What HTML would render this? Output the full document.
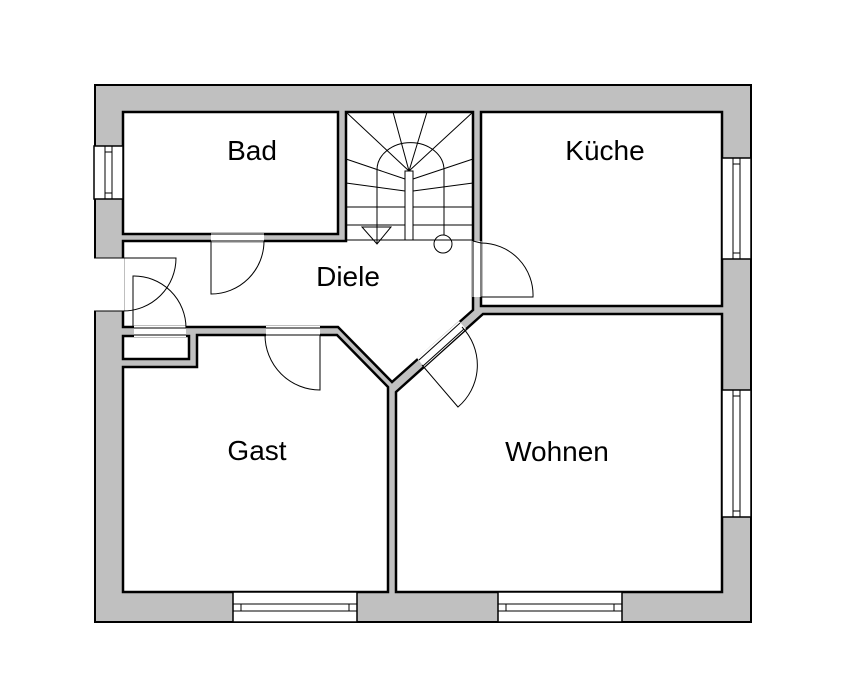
<!DOCTYPE html>
<html><head><meta charset="utf-8"><style>
html,body{margin:0;padding:0;background:#fff;}
svg{display:block;}
text{font-family:"Liberation Sans",Arial,sans-serif;font-size:28px;fill:#000;text-anchor:middle;}
</style></head><body>
<svg width="859" height="699" viewBox="0 0 859 699" xmlns="http://www.w3.org/2000/svg">
<!-- outer wall -->
<rect x="95" y="85" width="656" height="537" fill="#c0c0c0" stroke="#000" stroke-width="2"/>
<g fill="#fff" stroke="#000" stroke-width="2.5">
<!-- Bad -->
<rect x="123" y="112" width="215" height="122"/>
<!-- Kueche -->
<rect x="481" y="112" width="241" height="194"/>
<!-- Diele + stairs -->
<polygon points="123,241 346,241 346,112 473,112 473,310 392,382 338,327 123,327"/>
<!-- niche -->
<rect x="123" y="336" width="66" height="23"/>
<!-- Gast -->
<polygon points="123,367 197,367 197,335 337,335 388,387 388,592 123,592"/>
<!-- Wohnen -->
<polygon points="396,592 722,592 722,314 483,314 396,392"/>
</g>
<!-- openings (white) -->
<g fill="#fff" stroke="none">
<rect x="211" y="233" width="53" height="9"/>
<rect x="134" y="326" width="52" height="11"/>
<rect x="266" y="326" width="54" height="11"/>
<rect x="472" y="241" width="10" height="56"/>
<rect x="93" y="258" width="31" height="53"/>
<polygon points="417,358 459,321 466,329 424,367"/>
</g>
<g fill="none" stroke="#000" stroke-width="1">
<line x1="211" y1="234" x2="264" y2="234"/><line x1="211" y1="241" x2="264" y2="241"/>
<line x1="134" y1="328" x2="186" y2="328"/><line x1="134" y1="335" x2="186" y2="335"/>
<line x1="266" y1="328" x2="320" y2="328"/><line x1="266" y1="335" x2="320" y2="335"/>
<line x1="473" y1="241" x2="473" y2="297"/><line x1="481" y1="241" x2="481" y2="297"/>
<line x1="94" y1="258" x2="123" y2="258"/><line x1="94" y1="311" x2="123" y2="311"/>
<line x1="419" y1="360" x2="460" y2="323"/><line x1="423" y1="366" x2="464" y2="329"/>
<!-- door leaves -->
<path d="M211,241 L211,294 A53,53 0 0 0 264,241"/>
<path d="M123,258 L176,258 A53,53 0 0 1 123,311"/>
<path d="M133,328 L133,276 A52,52 0 0 1 186,328"/>
<path d="M320,335 L320,390 A55,55 0 0 1 265,335"/>
<path d="M481,297 L533,297 A52,52 0 0 0 481,243 L473,241"/>
<path d="M422,365 L458,407 A55,55 0 0 0 462,327"/>
</g>
<!-- windows -->
<g fill="#fff" stroke="#000" stroke-width="1.5">
<rect x="94" y="146" width="29" height="53"/>
<rect x="722" y="158" width="29" height="101"/>
<rect x="722" y="390" width="29" height="127"/>
<rect x="233" y="592" width="124" height="30"/>
<rect x="498" y="592" width="124" height="30"/>
</g>
<g fill="none" stroke="#000" stroke-width="1">
<line x1="105" y1="146" x2="105" y2="199"/><line x1="112" y1="146" x2="112" y2="199"/>
<line x1="105" y1="152" x2="112" y2="152"/><line x1="105" y1="193" x2="112" y2="193"/>
<line x1="733" y1="158" x2="733" y2="259"/><line x1="740" y1="158" x2="740" y2="259"/>
<line x1="733" y1="164" x2="740" y2="164"/><line x1="733" y1="253" x2="740" y2="253"/>
<line x1="733" y1="390" x2="733" y2="517"/><line x1="740" y1="390" x2="740" y2="517"/>
<line x1="733" y1="396" x2="740" y2="396"/><line x1="733" y1="511" x2="740" y2="511"/>
<line x1="233" y1="604" x2="357" y2="604"/><line x1="233" y1="611" x2="357" y2="611"/>
<line x1="241" y1="604" x2="241" y2="611"/><line x1="349" y1="604" x2="349" y2="611"/>
<line x1="498" y1="604" x2="622" y2="604"/><line x1="498" y1="611" x2="622" y2="611"/>
<line x1="506" y1="604" x2="506" y2="611"/><line x1="614" y1="604" x2="614" y2="611"/>
</g>
<!-- stairs -->
<g fill="none" stroke="#000" stroke-width="1">
<line x1="346" y1="240" x2="473" y2="240"/>
<line x1="346" y1="207" x2="405" y2="207"/><line x1="413" y1="207" x2="473" y2="207"/>
<line x1="346" y1="225" x2="405" y2="225"/><line x1="413" y1="225" x2="473" y2="225"/>
<line x1="409" y1="171" x2="346" y2="112"/>
<line x1="409" y1="171" x2="393" y2="112"/>
<line x1="409" y1="171" x2="427" y2="112"/>
<line x1="409" y1="171" x2="473" y2="112"/>
<line x1="405" y1="179" x2="346" y2="159"/>
<line x1="405" y1="191" x2="346" y2="183"/>
<line x1="413" y1="179" x2="473" y2="159"/>
<line x1="413" y1="191" x2="473" y2="183"/>
<path d="M377,240 L377,170 A33,27 0 0 1 444,170 L444,235"/>
<rect x="405" y="171" width="8" height="69" fill="#fff"/>
<polygon points="362,227 391,227 377,244"/>
<line x1="377" y1="227" x2="377" y2="244"/>
<circle cx="443" cy="244" r="9"/>
</g>
<text x="252" y="160">Bad</text>
<text x="605" y="160">Küche</text>
<text x="348" y="286">Diele</text>
<text x="257" y="460">Gast</text>
<text x="557" y="461">Wohnen</text>
</svg>
</body></html>
